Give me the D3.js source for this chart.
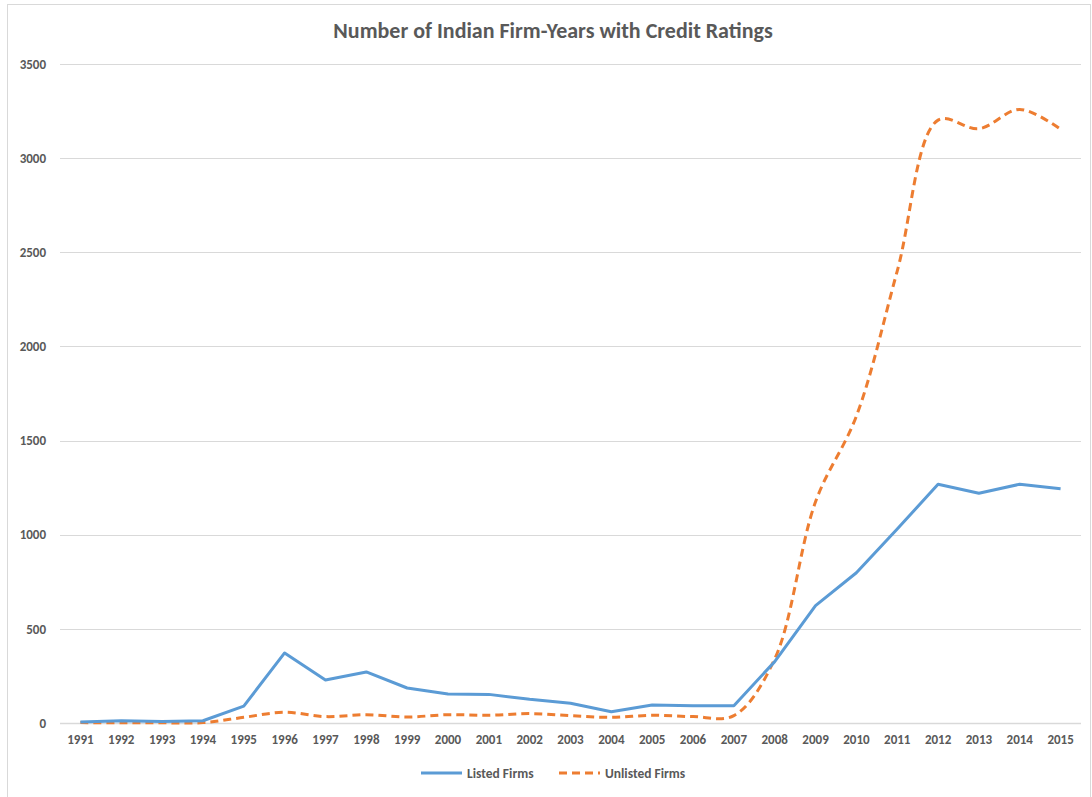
<!DOCTYPE html>
<html>
<head>
<meta charset="utf-8">
<script src="https://cdn.jsdelivr.net/npm/d3@7"></script>
<style>
  body { margin: 0; background: #fff; }
  text { font-family: Carlito, Lato, "Open Sans", sans-serif; fill: #595959; }
</style>
</head>
<body>
<svg id="chart" width="1092" height="797"></svg>
<script>
/// data
var years = ["1991","1992","1993","1994","1995","1996","1997","1998","1999","2000","2001","2002","2003",
             "2004","2005","2006","2007","2008","2009","2010","2011","2012","2013","2014","2015"];
var listedFirms = [5, 12, 8, 12, 90, 372, 228, 271, 186, 154, 152, 126, 105,
                   60, 96, 92, 92, 326, 623, 798, 1030, 1268, 1220, 1268, 1244];
var unlistedFirms = [2, 1, 1, 2, 30, 57, 34, 44, 32, 44, 41, 50, 39,
                     30, 41, 34, 39, 340, 1175, 1630, 2400, 3202, 3156, 3259, 3153];
var yTicks = [0, 500, 1000, 1500, 2000, 2500, 3000, 3500];
var seriesNames = ["Listed Firms", "Unlisted Firms"];

var svg = d3.select("#chart");

// outer chart border
svg.append("rect")
    .attr("x", 7.5).attr("y", 4.5)
    .attr("width", 1083).attr("height", 800)
    .style("fill", "none")
    .style("stroke", "#d9d9d9");

var plotLeft = 60, plotRight = 1081, plotTop = 64, plotBottom = 723;

var x = d3.scaleBand().domain(years).range([plotLeft, plotRight]);
var y = d3.scaleLinear().domain([0, 3500]).range([plotBottom, plotTop]);

// gridlines
svg.append("g")
  .selectAll("line")
    .data(yTicks)
  .enter().append("line")
    .attr("x1", plotLeft).attr("x2", plotRight)
    .attr("y1", function(d) { return Math.round(y(d)) + 0.5; })
    .attr("y2", function(d) { return Math.round(y(d)) + 0.5; })
    .style("stroke", "#d9d9d9")
    .style("stroke-width", function(d) { return d === 0 ? 1.5 : 1; });

// y axis labels
var yAxis = svg.append("g")
    .attr("transform", "translate(" + plotLeft + ",0)")
    .call(d3.axisLeft(y).tickValues(yTicks).tickFormat(d3.format("d")).tickSize(0).tickPadding(14));
yAxis.select(".domain").remove();
yAxis.selectAll("text")
    .style("font-size", "13px")
    .style("font-weight", "bold")
    .style("fill", "#595959")
    .attr("font-family", null);

// x axis labels
var xAxis = svg.append("g")
    .attr("transform", "translate(0," + plotBottom + ")")
    .call(d3.axisBottom(x).tickSize(0).tickPadding(12));
xAxis.select(".domain").remove();
xAxis.selectAll("text")
    .style("font-size", "13px")
    .style("font-weight", "bold")
    .style("fill", "#595959")
    .attr("font-family", null);

function cx(i) { return x(years[i]) + x.bandwidth() / 2; }

var straight = d3.line()
    .x(function(d, i) { return cx(i); })
    .y(function(d) { return y(d); });

// smoothed like Excel's "smoothed line" option
var smooth = d3.line()
    .curve(d3.curveCatmullRom.alpha(0.5))
    .x(function(d, i) { return cx(i); })
    .y(function(d) { return y(d); });

svg.append("path")
    .datum(unlistedFirms)
    .attr("d", smooth)
    .style("fill", "none")
    .style("stroke", "#ED7D31")
    .style("stroke-width", 3)
    .style("stroke-dasharray", "8,5");

svg.append("path")
    .datum(listedFirms)
    .attr("d", straight)
    .style("fill", "none")
    .style("stroke", "#5B9BD5")
    .style("stroke-width", 3)
    .style("stroke-linejoin", "round");

// title
svg.append("text")
    .attr("x", 553).attr("y", 38)
    .attr("text-anchor", "middle")
    .style("font-size", "22px")
    .style("font-weight", "bold")
    .text("Number of Indian Firm-Years with Credit Ratings");

// legend
var legend = svg.append("g");
var legendItems = [
  { name: seriesNames[0], color: "#5B9BD5", dash: null, x: 421 },
  { name: seriesNames[1], color: "#ED7D31", dash: "8,5", x: 559 }
];
var item = legend.selectAll("g")
    .data(legendItems)
  .enter().append("g")
    .attr("transform", function(d) { return "translate(" + d.x + ",773)"; });
item.append("line")
    .attr("x1", 0).attr("x2", 41)
    .style("stroke", function(d) { return d.color; })
    .style("stroke-width", 3)
    .style("stroke-dasharray", function(d) { return d.dash; });
item.append("text")
    .attr("x", 46).attr("y", 4.5)
    .style("font-size", "13.5px")
    .style("font-weight", "bold")
    .text(function(d) { return d.name; });
</script>
</body>
</html>
